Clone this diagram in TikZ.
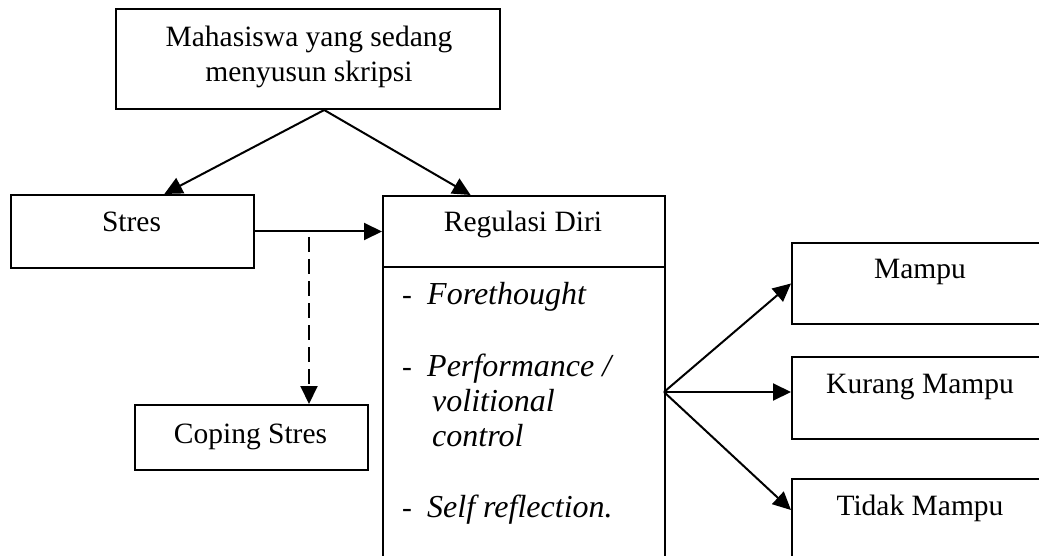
\documentclass[tikz,border=0pt]{standalone}
\usepackage{fontspec}
\setmainfont{Liberation Serif}
\usetikzlibrary{arrows.meta,calc}
\begin{document}
\begin{tikzpicture}[x=1pt,y=-1pt,
  box/.style={draw,line width=2pt,rectangle,inner sep=0pt,anchor=north west},
  txt/.style={anchor=base,inner sep=0pt,font=\fontsize{29.5}{35}\selectfont},
  itxt/.style={anchor=base west,inner sep=0pt,font=\fontsize{32}{35}\selectfont\itshape},
  arr/.style={line width=2pt,-{Triangle[length=18pt,width=17pt]}},
  darr/.style={arr,dash pattern=on 15pt off 7pt}]
\useasboundingbox (0,0) rectangle (1039,556);
\clip (0,0) rectangle (1039,556);
% boxes
\node[box,minimum width=384pt,minimum height=100pt] (top) at (115,8) {};
\node[box,minimum width=243pt,minimum height=73pt] (stres) at (10,194) {};
\node[box,minimum width=282pt,minimum height=420pt] (reg) at (382,195) {};
\node[box,minimum width=233pt,minimum height=65pt] (cop) at (134,404) {};
\node[box,minimum width=258pt,minimum height=81pt] (mam) at (791,242) {};
\node[box,minimum width=258pt,minimum height=82pt] (kur) at (791,356) {};
\node[box,minimum width=258pt,minimum height=120pt] (tid) at (791,478) {};
% divider in Regulasi box
\coordinate (divl) at ($(reg.north west)+(0,72)$);
\draw[line width=2pt] (divl) -- (divl -| reg.east);
% texts
\node[txt] (t1) at (309,47) {Mahasiswa yang sedang};
\node[txt] (t2) at (309,82) {menyusun skripsi};
\node[txt] (ts) at (131.5,232) {Stres};
\node[txt] (tr) at (523,232) {Regulasi Diri};
\node[txt] (tc) at (250.5,443) {Coping Stres};
\node[txt] (tm) at (920,278) {Mampu};
\node[txt] (tk) at (920,393) {Kurang Mampu};
\node[txt] (tt) at (920,515) {Tidak Mampu};
\node[txt] (d1) at (407,305) {-};
\node[txt] (d2) at (407,376) {-};
\node[txt] (d3) at (407,517) {-};
\node[itxt] (i1) at (427,305) {Forethought};
\node[itxt] (i2) at (427,376) {Performance /};
\node[itxt] (i3) at (432,411) {volitional};
\node[itxt] (i4) at (432,446) {control};
\node[itxt] (i5) at (427,517) {Self reflection.};
% connectors
\coordinate (apex) at ($(top.south west)!0.542!(top.south east)$);
\draw[arr] (apex) -- ($(stres.north west)!0.63!(stres.north east)$);
\draw[arr] (apex) -- ($(reg.north west)!0.312!(reg.north east)$);
\draw[arr] (stres.east) -- (stres.east -| reg.west);
\coordinate (dstart) at (309,237);
\draw[darr] (dstart) -- (dstart |- cop.north);
\coordinate (fan) at (664,392);
\draw[arr] (fan) -- (mam.west);
\draw[arr] (fan) -- (fan -| kur.west);
\draw[arr] (fan) -- ($(tid.north west)+(0,32)$);
\end{tikzpicture}
\end{document}
